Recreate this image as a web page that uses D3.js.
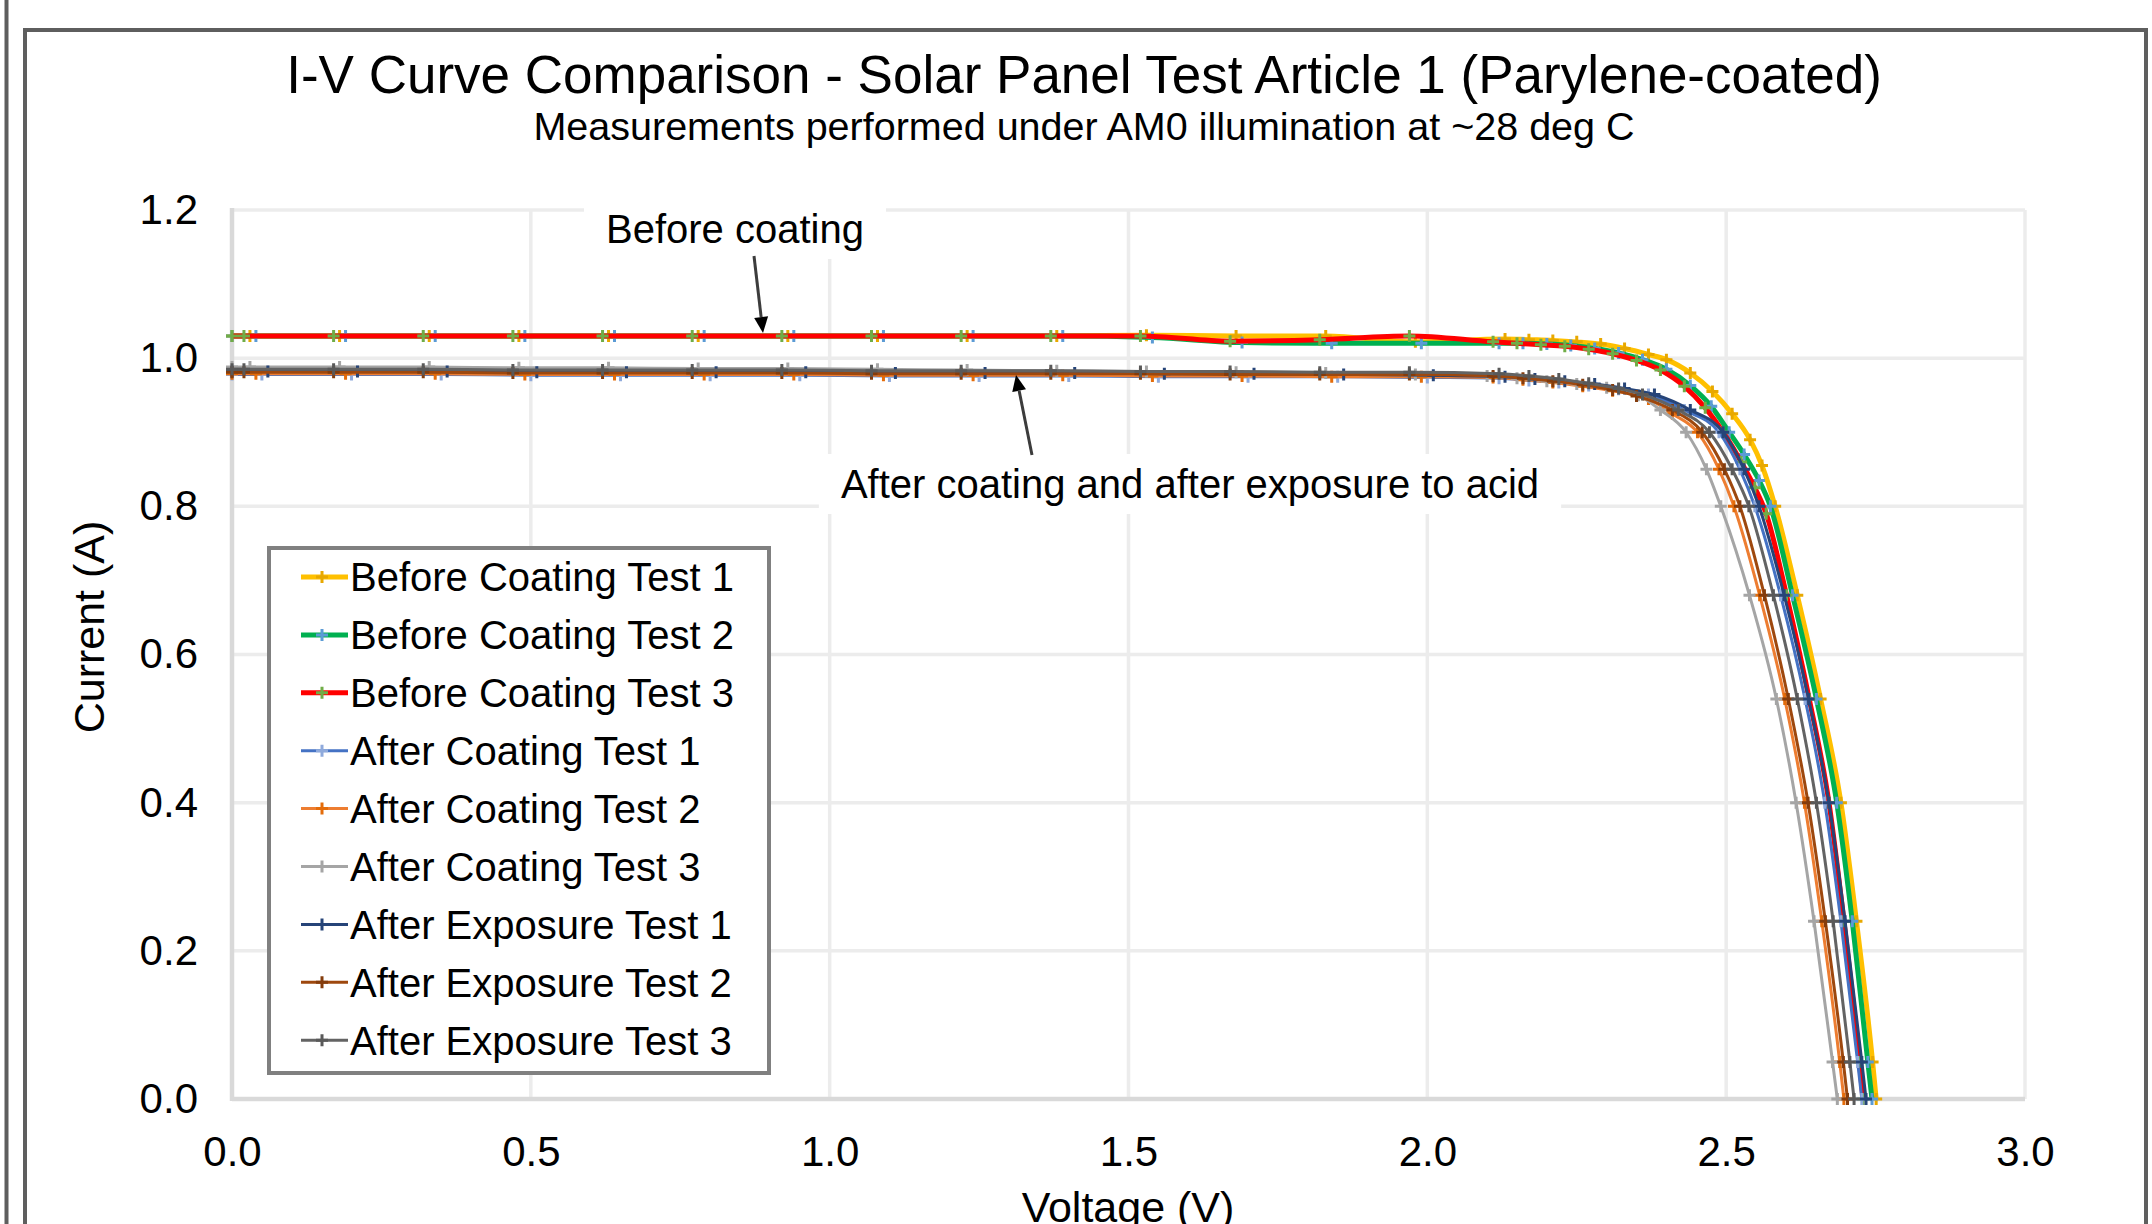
<!DOCTYPE html>
<head>
	<meta charset="utf-8">
	<title>I-V Curve Comparison</title>
<style>
	body {
		margin:0;
		background-color:#ffffff;
	}
	svg { display:block; }
	text {
		font-family: Arial, "Liberation Sans", sans-serif;
		fill:#000000;
	}
	.tick text { font-size:42px; }
	.grid { stroke:#ececec; stroke-width:3.5px; }
	.axisline { stroke:#d9d9d9; stroke-width:4.5px; }
	.frame { fill:none; stroke:#5e5e5e; stroke-width:4px; }
	.legendbox { fill:#ffffff; stroke:#808080; stroke-width:4px; }
	.legend text { font-size:40px; }
	.note { font-size:40px; }
	.labelbox { fill:#ffffff; }
	.arrow { stroke:#3c3c3c; stroke-width:3px; }
</style>
</head>
<body>
<script src="https://cdn.jsdelivr.net/npm/d3@7"></script>
<script>
	// tick values
	var xTicks = [0, 0.5, 1.0, 1.5, 2.0, 2.5, 3.0];
	var yTicks = [0, 0.2, 0.4, 0.6, 0.8, 1.0, 1.2];

	var seriesNames = ["Before Coating Test 1", "Before Coating Test 2", "Before Coating Test 3",
		"After Coating Test 1", "After Coating Test 2", "After Coating Test 3",
		"After Exposure Test 1", "After Exposure Test 2", "After Exposure Test 3"];

	// [voltage V, current A]
	var beforeTest1 = [[0,1.03],[0.03,1.03],[0.18,1.03],[0.33,1.03],[0.48,1.03],[0.63,1.03],[0.78,1.03],[0.93,1.03],[1.08,1.03],[1.23,1.03],[1.38,1.03],[1.53,1.031],[1.68,1.03],[1.83,1.03],[1.98,1.022],[2.13,1.026],[2.17,1.025],[2.21,1.024],[2.25,1.022],[2.29,1.019],[2.33,1.013],[2.37,1.005],[2.40,0.998],[2.44,0.98],[2.477,0.955],[2.51,0.925],[2.54,0.89],[2.56,0.855],[2.582,0.8],[2.619,0.68],[2.658,0.54],[2.692,0.4],[2.718,0.24],[2.745,0.05],[2.751,0]];
	var beforeTest2 = [[0,1.03],[0.04,1.03],[0.19,1.03],[0.34,1.03],[0.49,1.03],[0.64,1.03],[0.79,1.03],[0.94,1.03],[1.09,1.03],[1.24,1.03],[1.39,1.03],[1.54,1.028],[1.69,1.021],[1.84,1.02],[1.99,1.02],[2.12,1.02],[2.16,1.02],[2.20,1.019],[2.24,1.017],[2.28,1.013],[2.32,1.007],[2.36,0.998],[2.40,0.985],[2.44,0.963],[2.475,0.935],[2.505,0.9],[2.53,0.87],[2.555,0.835],[2.574,0.8],[2.611,0.68],[2.651,0.54],[2.685,0.4],[2.711,0.24],[2.737,0.05],[2.744,0]];
	var beforeTest3 = [[0,1.03],[0.02,1.03],[0.17,1.03],[0.32,1.03],[0.47,1.03],[0.62,1.03],[0.77,1.03],[0.92,1.03],[1.07,1.03],[1.22,1.03],[1.37,1.03],[1.52,1.03],[1.67,1.023],[1.82,1.025],[1.97,1.03],[2.11,1.022],[2.15,1.02],[2.19,1.018],[2.23,1.016],[2.27,1.012],[2.31,1.006],[2.35,0.997],[2.39,0.984],[2.43,0.962],[2.465,0.933],[2.495,0.9],[2.525,0.86],[2.548,0.825],[2.567,0.79],[2.601,0.68],[2.639,0.54],[2.672,0.4],[2.697,0.24],[2.723,0.05],[2.729,0]];
	var afterCoating1 = [[0,0.978],[0.05,0.978],[0.20,0.978],[0.35,0.978],[0.50,0.977],[0.65,0.977],[0.80,0.977],[0.95,0.977],[1.10,0.976],[1.25,0.976],[1.40,0.976],[1.55,0.975],[1.70,0.975],[1.85,0.975],[2.00,0.974],[2.12,0.973],[2.17,0.970],[2.22,0.967],[2.27,0.963],[2.32,0.958],[2.37,0.951],[2.43,0.93],[2.488,0.9],[2.523,0.85],[2.548,0.8],[2.591,0.68],[2.632,0.54],[2.665,0.4],[2.692,0.24],[2.72,0.05],[2.727,0]];
	var afterCoating2 = [[0,0.979],[0.04,0.979],[0.19,0.979],[0.34,0.979],[0.49,0.978],[0.64,0.978],[0.79,0.978],[0.94,0.978],[1.09,0.977],[1.24,0.977],[1.39,0.977],[1.54,0.976],[1.69,0.976],[1.84,0.975],[1.99,0.975],[2.11,0.974],[2.16,0.971],[2.21,0.967],[2.26,0.962],[2.31,0.956],[2.37,0.945],[2.41,0.925],[2.452,0.9],[2.488,0.85],[2.513,0.8],[2.556,0.68],[2.598,0.54],[2.631,0.4],[2.66,0.24],[2.69,0.05],[2.697,0]];
	var afterCoating3 = [[0,0.988],[0.03,0.988],[0.18,0.988],[0.33,0.988],[0.48,0.987],[0.63,0.987],[0.78,0.986],[0.93,0.986],[1.08,0.985],[1.23,0.984],[1.38,0.983],[1.53,0.982],[1.68,0.981],[1.83,0.980],[1.98,0.978],[2.10,0.976],[2.15,0.973],[2.20,0.969],[2.25,0.965],[2.30,0.96],[2.353,0.95],[2.39,0.93],[2.433,0.9],[2.467,0.85],[2.491,0.8],[2.539,0.68],[2.584,0.54],[2.617,0.4],[2.647,0.24],[2.678,0.05],[2.686,0]];
	var afterExposure1 = [[0,0.982],[0.06,0.982],[0.21,0.982],[0.36,0.982],[0.51,0.981],[0.66,0.981],[0.81,0.981],[0.96,0.981],[1.11,0.980],[1.26,0.980],[1.41,0.980],[1.56,0.979],[1.71,0.979],[1.86,0.978],[2.01,0.977],[2.13,0.975],[2.18,0.972],[2.23,0.969],[2.28,0.965],[2.33,0.959],[2.38,0.951],[2.44,0.93],[2.495,0.9],[2.53,0.85],[2.555,0.8],[2.597,0.68],[2.638,0.54],[2.672,0.4],[2.699,0.24],[2.727,0.05],[2.734,0]];
	var afterExposure2 = [[0,0.981],[0.02,0.981],[0.17,0.981],[0.32,0.981],[0.47,0.980],[0.62,0.980],[0.77,0.980],[0.92,0.980],[1.07,0.979],[1.22,0.979],[1.37,0.979],[1.52,0.979],[1.67,0.978],[1.82,0.978],[1.97,0.978],[2.11,0.976],[2.16,0.973],[2.21,0.969],[2.26,0.964],[2.31,0.957],[2.35,0.949],[2.41,0.93],[2.46,0.9],[2.497,0.85],[2.523,0.8],[2.564,0.68],[2.604,0.54],[2.637,0.4],[2.666,0.24],[2.696,0.05],[2.703,0]];
	var afterExposure3 = [[0,0.985],[0.02,0.985],[0.17,0.985],[0.32,0.985],[0.47,0.984],[0.62,0.984],[0.77,0.984],[0.92,0.984],[1.07,0.983],[1.22,0.983],[1.37,0.983],[1.52,0.982],[1.67,0.982],[1.82,0.981],[1.97,0.981],[2.12,0.979],[2.17,0.976],[2.22,0.972],[2.27,0.966],[2.32,0.959],[2.36,0.951],[2.42,0.93],[2.472,0.9],[2.51,0.85],[2.538,0.8],[2.579,0.68],[2.619,0.54],[2.651,0.4],[2.679,0.24],[2.707,0.05],[2.714,0]];

	var allValues = [beforeTest1, beforeTest2, beforeTest3, afterCoating1, afterCoating2, afterCoating3,
		afterExposure1, afterExposure2, afterExposure3];

	var lineColors = ["#ffc000", "#00b050", "#ff0000", "#4472c4", "#ed7d31", "#a5a5a5", "#264478", "#9e480e", "#636363"];
	var markerColors = ["#e8a800", "#5b9bd5", "#70ad47", "#8faadc", "#e46c0a", "#a5a5a5", "#264478", "#843c0c", "#595959"];
	var lineWidths = [5, 5, 5, 3, 3, 3, 3, 3, 3];

	var width = 2152;
	var height = 1224;

	var svg = d3.select("body").append("svg")
		.attr("width", width)
		.attr("height", height);

	var x = d3.scaleLinear().domain([0, 3]).range([232, 2025]);
	var y = d3.scaleLinear().domain([0, 1.2]).range([1099, 210]);

	// outer frame
	svg.append("line").attr("class", "frame")
		.attr("x1", 6.5).attr("x2", 6.5).attr("y1", 0).attr("y2", height);
	svg.append("path").attr("class", "frame")
		.attr("d", "M25," + height + "V30H2146V" + height);

	// titles
	svg.append("text")
		.attr("x", 1084).attr("y", 93)
		.attr("text-anchor", "middle")
		.style("font-size", "53px")
		.text("I-V Curve Comparison - Solar Panel Test Article 1 (Parylene-coated)");
	svg.append("text")
		.attr("x", 1084).attr("y", 140)
		.attr("text-anchor", "middle")
		.style("font-size", "39.5px")
		.text("Measurements performed under AM0 illumination at ~28 deg C");

	// gridlines
	var grid = svg.append("g");
	grid.selectAll("line.h")
		.data(yTicks.slice(1))
		.enter().append("line")
		.attr("class", "grid")
		.attr("x1", x(0)).attr("x2", x(3))
		.attr("y1", function(d) {return y(d)})
		.attr("y2", function(d) {return y(d)});
	grid.selectAll("line.v")
		.data(xTicks.slice(1))
		.enter().append("line")
		.attr("class", "grid")
		.attr("y1", y(0)).attr("y2", y(1.2))
		.attr("x1", function(d) {return x(d)})
		.attr("x2", function(d) {return x(d)});
	grid.append("line").attr("class", "axisline")
		.attr("x1", x(0)).attr("x2", x(0)).attr("y1", y(1.2) - 2).attr("y2", y(0) + 2);
	grid.append("line").attr("class", "axisline")
		.attr("x1", x(0)).attr("x2", x(3)).attr("y1", y(0)).attr("y2", y(0));

	// axes
	var xAxis = svg.append("g")
		.attr("transform", "translate(0," + y(0) + ")")
		.call(d3.axisBottom(x).tickValues(xTicks).tickFormat(d3.format(".1f")).tickSize(0).tickPadding(37));
	var yAxis = svg.append("g")
		.attr("transform", "translate(" + x(0) + ",0)")
		.call(d3.axisLeft(y).tickValues(yTicks).tickFormat(d3.format(".1f")).tickSize(0).tickPadding(34));
	svg.selectAll(".domain").remove();
	svg.selectAll(".tick text").attr("fill", "#000000");

	svg.append("text")
		.attr("x", 1128).attr("y", 1222)
		.attr("text-anchor", "middle")
		.style("font-size", "43px")
		.text("Voltage (V)");
	svg.append("text")
		.attr("transform", "translate(104,627) rotate(-90)")
		.attr("text-anchor", "middle")
		.style("font-size", "43px")
		.text("Current (A)");

	// annotations
	var notes = [
		{text: "Before coating", cx: 735, by: 243, tail: [754, 256], tip: [763, 333]},
		{text: "After coating and after exposure to acid", cx: 1190, by: 498, tail: [1032, 455], tip: [1016, 375]}
	];
	notes.forEach(function(n) {
		var g = svg.append("g");
		var box = g.append("rect").attr("class", "labelbox");
		var t = g.append("text").attr("class", "note")
			.attr("x", n.cx).attr("y", n.by)
			.attr("text-anchor", "middle")
			.text(n.text);
		var bb = t.node().getBBox();
		box.attr("x", bb.x - 22).attr("y", bb.y - 8)
			.attr("width", bb.width + 44).attr("height", bb.height + 16);
	});

	// curves
	var line = d3.line()
		.x(function(d) {return x(d[0])})
		.y(function(d) {return y(d[1])})
		.curve(d3.curveMonotoneX);

	var plot = svg.append("g");
	allValues.forEach(function(vals, i) {
		plot.append("path")
			.attr("d", line(vals))
			.attr("fill", "none")
			.attr("stroke", lineColors[i])
			.attr("stroke-width", lineWidths[i])
			.attr("stroke-linejoin", "round");
		plot.selectAll("path.m" + i)
			.data(vals)
			.enter().append("path")
			.attr("class", "m" + i)
			.attr("d", "M-6,0H6M0,-6V6")
			.attr("transform", function(d) {return "translate(" + x(d[0]) + "," + y(d[1]) + ")"})
			.attr("stroke", markerColors[i])
			.attr("stroke-width", 3);
	});

	// arrows
	notes.forEach(function(n) {
		var dx = n.tip[0] - n.tail[0], dy = n.tip[1] - n.tail[1];
		var len = Math.sqrt(dx * dx + dy * dy);
		var ux = dx / len, uy = dy / len;
		var bx = n.tip[0] - ux * 16, by = n.tip[1] - uy * 16;
		svg.append("line").attr("class", "arrow")
			.attr("x1", n.tail[0]).attr("y1", n.tail[1])
			.attr("x2", bx).attr("y2", by);
		svg.append("path")
			.attr("fill", "#000000")
			.attr("d", "M" + n.tip[0] + "," + n.tip[1] +
				"L" + (bx - uy * 7) + "," + (by + ux * 7) +
				"L" + (bx + uy * 7) + "," + (by - ux * 7) + "Z");
	});

	// legend
	var legend = svg.append("g").attr("class", "legend");
	legend.append("rect").attr("class", "legendbox")
		.attr("x", 269).attr("y", 548).attr("width", 500).attr("height", 525);
	var rows = legend.selectAll("g.row")
		.data(seriesNames)
		.enter().append("g")
		.attr("class", "row")
		.attr("transform", function(d, i) {return "translate(0," + (577 + i * 57.9) + ")"});
	rows.append("line")
		.attr("x1", 301).attr("x2", 348)
		.attr("stroke", function(d, i) {return lineColors[i]})
		.attr("stroke-width", function(d, i) {return lineWidths[i]});
	rows.append("path")
		.attr("d", "M316,0H328M322,-6V6")
		.attr("stroke", function(d, i) {return markerColors[i]})
		.attr("stroke-width", 3);
	rows.append("text")
		.attr("x", 350).attr("dy", "0.36em")
		.text(function(d) {return d});
</script>
</body>
